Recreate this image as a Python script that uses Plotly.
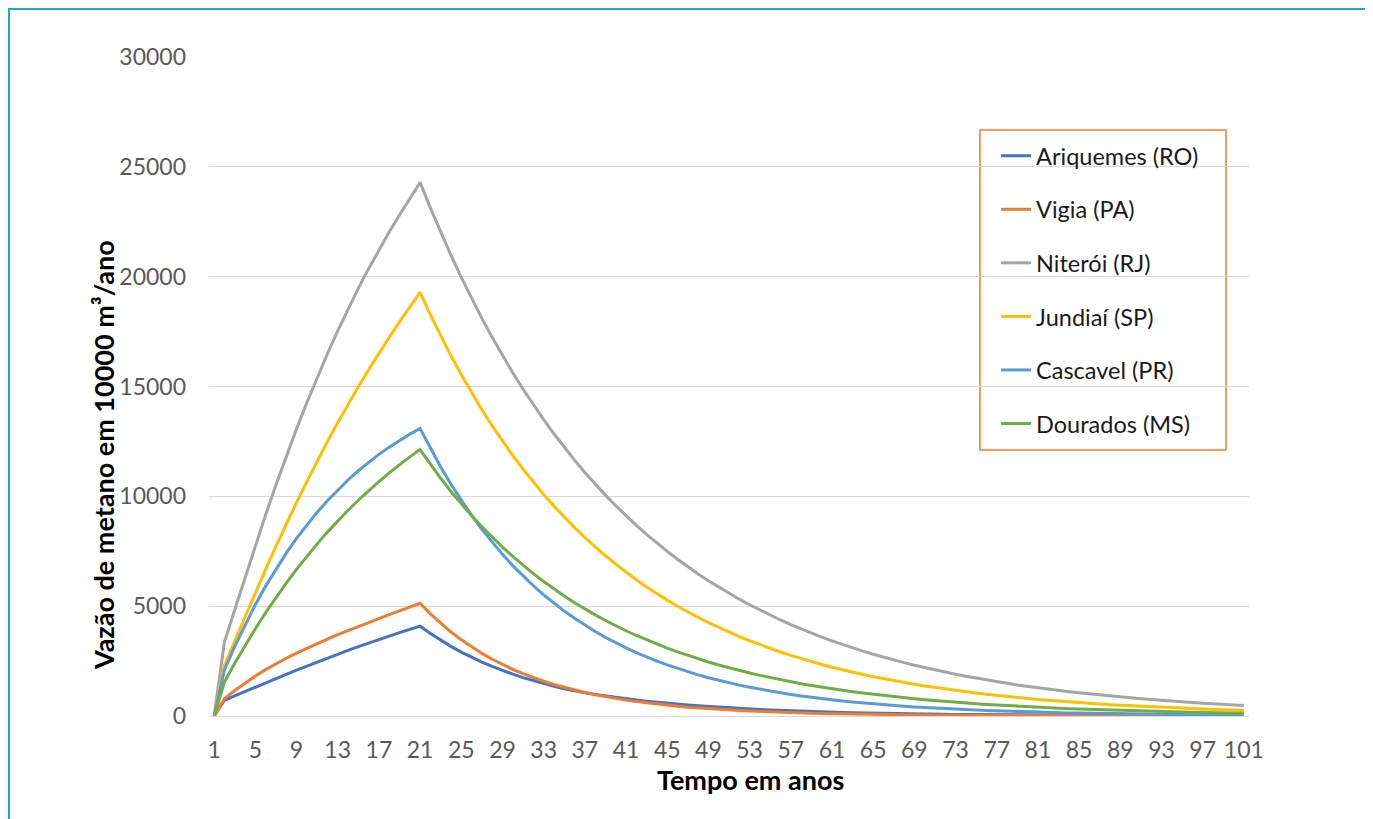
import plotly.graph_objects as go

years = list(range(1, 102))
tick_years = [1, 5, 9, 13, 17, 21, 25, 29, 33, 37, 41, 45, 49, 53, 57, 61, 65, 69, 73, 77, 81, 85, 89, 93, 97, 101]

ariquemes = [0, 715, 920, 1122, 1320, 1515, 1707, 1897, 2085, 2271, 2454, 2634, 2811, 2985, 3155, 3321, 3483, 3641, 3795, 3945, 4090,
             3757, 3451, 3169, 2911, 2674, 2456, 2256, 2072, 1903, 1748, 1606, 1475, 1355, 1244, 1143,
             1060, 984, 913, 847, 786, 729, 676, 627, 582, 540, 501, 465, 431, 400, 371, 344, 319, 296, 275, 255,
             237, 219, 204, 189, 175, 163, 151, 140, 130, 120, 112, 104, 96, 89, 83, 77, 71, 66, 61, 57,
             53, 49, 46, 42, 39, 36, 34, 31, 29, 27, 25, 23, 21, 20, 18, 17, 16, 15, 14, 13, 12, 11, 10, 9, 9]

vigia = [0, 790, 1161, 1504, 1819, 2111, 2380, 2630, 2866, 3088, 3301, 3505, 3701, 3891, 4076, 4258, 4437, 4613, 4787, 4959, 5130,
         4651, 4217, 3823, 3466, 3143, 2849, 2583, 2342, 2124, 1925, 1745, 1582, 1435, 1301, 1179, 1069, 969, 879, 797, 723,
         655, 594, 539, 488, 443, 401, 364, 330, 299, 271, 246, 223, 202, 183, 166, 151, 137, 124, 112, 102,
         92, 84, 76, 69, 62, 56, 51, 46, 42, 38, 35, 31, 28, 26, 23, 21, 19, 17, 16, 14,
         13, 12, 11, 10, 9, 8, 7, 7, 6, 5, 5, 4, 4, 4, 3, 3, 3, 2, 2, 2]

niteroi = [0, 3370, 4840, 6300, 7750, 9160, 10520, 11825, 13070, 14260, 15400, 16490, 17530, 18520, 19465, 20365, 21225, 22030, 22810, 23560, 24290,
           23128, 22023, 20970, 19967, 19012, 18103, 17237, 16413, 15628, 14881, 14169, 13492, 12847, 12232, 11647, 11090, 10560, 10055, 9574, 9117,
           8681, 8266, 7870, 7494, 7136, 6794, 6469, 6160, 5866, 5585, 5318, 5064, 4822, 4591, 4371, 4162, 3963, 3774, 3593, 3422,
           3258, 3102, 2954, 2813, 2678, 2550, 2428, 2312, 2201, 2096, 1996, 1901, 1810, 1723, 1641, 1562, 1488, 1416, 1349, 1284,
           1223, 1164, 1109, 1056, 1005, 957, 911, 868, 826, 787, 749, 713, 679, 647, 616, 586, 558, 532, 506, 482]

jundiai = [0, 2300, 3414, 4518, 5607, 6676, 7720, 8734, 9718, 10672, 11596, 12490, 13354, 14188, 14992, 15766, 16515, 17239, 17938, 18617, 19280,
           18266, 17306, 16396, 15535, 14718, 13944, 13211, 12517, 11859, 11235, 10644, 10085, 9555, 9053, 8577, 8126, 7699, 7294, 6911, 6547,
           6203, 5877, 5568, 5275, 4998, 4735, 4486, 4250, 4027, 3815, 3615, 3425, 3245, 3074, 2912, 2759, 2614, 2477, 2347, 2223,
           2106, 1996, 1891, 1791, 1697, 1608, 1523, 1443, 1367, 1296, 1227, 1163, 1102, 1044, 989, 937, 888, 841, 797, 755,
           715, 678, 642, 608, 576, 546, 517, 490, 464, 440, 417, 395, 374, 355, 336, 318, 301, 286, 271, 256]

cascavel = [0, 2100, 3167, 4154, 5067, 5912, 6693, 7416, 8084, 8702, 9274, 9803, 10292, 10745, 11164, 11551, 11909, 12240, 12547, 12831, 13090,
            12181, 11335, 10547, 9814, 9133, 8498, 7908, 7358, 6847, 6372, 5929, 5517, 5134, 4777, 4446, 4137, 3849, 3582, 3333, 3102,
            2886, 2686, 2499, 2326, 2164, 2014, 1874, 1744, 1623, 1510, 1405, 1307, 1217, 1132, 1053, 980, 912, 849, 790, 735,
            684, 636, 592, 551, 513, 477, 444, 413, 384, 358, 333, 310, 288, 268, 250, 232, 216, 201, 187, 174,
            162, 151, 140, 131, 121, 113, 105, 98, 91, 85, 79, 73, 68, 64, 59, 55, 51, 48, 44, 41]

dourados = [0, 1550, 2400, 3207, 3974, 4703, 5395, 6053, 6678, 7272, 7836, 8372, 8881, 9364, 9823, 10259, 10673, 11067, 11441, 11796, 12130,
            11458, 10823, 10223, 9657, 9122, 8617, 8139, 7688, 7262, 6860, 6480, 6121, 5782, 5461, 5159, 4873, 4603, 4348, 4107, 3880,
            3665, 3462, 3270, 3089, 2918, 2756, 2603, 2459, 2323, 2194, 2073, 1958, 1849, 1747, 1650, 1559, 1472, 1391, 1314, 1241,
            1172, 1107, 1046, 988, 933, 882, 833, 787, 743, 702, 663, 626, 592, 559, 528, 499, 471, 445, 420, 397,
            375, 354, 335, 316, 299, 282, 266, 252, 238, 225, 212, 200, 189, 179, 169, 160, 151, 142, 134, 127]

series_names = ["Ariquemes (RO)", "Vigia (PA)", "Niterói (RJ)", "Jundiaí (SP)", "Cascavel (PR)", "Dourados (MS)"]
series_values = [ariquemes, vigia, niteroi, jundiai, cascavel, dourados]
series_colors = ["#4472C4", "#ED7D31", "#A5A5A5", "#FFC000", "#5B9BD5", "#70AD47"]

x_title = "Tempo em anos"
y_title = "Vazão de metano em 10000 m³/ano"

FONT = "Lato"

fig = go.Figure()
for name, vals, color in zip(series_names, series_values, series_colors):
    fig.add_trace(go.Scatter(x=years, y=vals, mode="lines", name=name, legendgroup=name,
                             line=dict(color=color, width=3)))

# page body has an 8px margin: plot area on screen x 209..1249, y 57..716
fig.update_layout(
    width=1373, height=819,
    margin=dict(l=201, r=132, t=49, b=111),
    paper_bgcolor="white", plot_bgcolor="white",
    showlegend=True,
    legend=dict(x=0.7568, y=0.8832, xanchor="left", yanchor="top",
                borderwidth=0, bgcolor="rgba(0,0,0,0)",
                font=dict(family=FONT, size=23.5, color="#1a1a1a"),
                tracegroupgap=20, itemwidth=30),
    xaxis=dict(range=[0.5, 101.5], tickmode="array", tickvals=tick_years,
               ticktext=[str(t) for t in tick_years], showgrid=False, zeroline=False,
               showline=True, linecolor="#D9D9D9", linewidth=1.3,
               tickfont=dict(family=FONT, size=23, color="#595959"),
               ticks="", ticklabelstandoff=13),
    yaxis=dict(range=[0, 30000], dtick=5000, tick0=0, tickformat="d",
               showgrid=True, gridcolor="#D9D9D9", gridwidth=1.3,
               zeroline=False, showline=False,
               tickfont=dict(family=FONT, size=23, color="#595959"),
               ticks="", ticklabelstandoff=22),
    annotations=[
        dict(text="<b>" + x_title + "</b>", xref="paper", yref="paper",
             x=0.5202, y=-0.0971, xanchor="center", yanchor="middle", showarrow=False,
             font=dict(family=FONT, size=27, color="#000000")),
        dict(text="<b>" + y_title + "</b>", xref="paper", yref="paper",
             x=-0.1019, y=0.396, xanchor="center", yanchor="middle", showarrow=False,
             textangle=-90, font=dict(family=FONT, size=27, color="#000000")),
    ],
    shapes=[
        dict(type="rect", xref="paper", yref="paper",
             x0=-0.1923, x1=1.1125, y0=-0.2, y1=1.0728,
             line=dict(color="#1AA7E0", width=2), fillcolor="rgba(0,0,0,0)", layer="below"),
        dict(type="rect", xref="paper", yref="paper",
             x0=0.7413, x1=0.9779, y0=0.4036, y1=0.8892,
             line=dict(color="#ED7D31", width=1.5), fillcolor="white", layer="below"),
    ],
)

fig.write_html("out.html")
